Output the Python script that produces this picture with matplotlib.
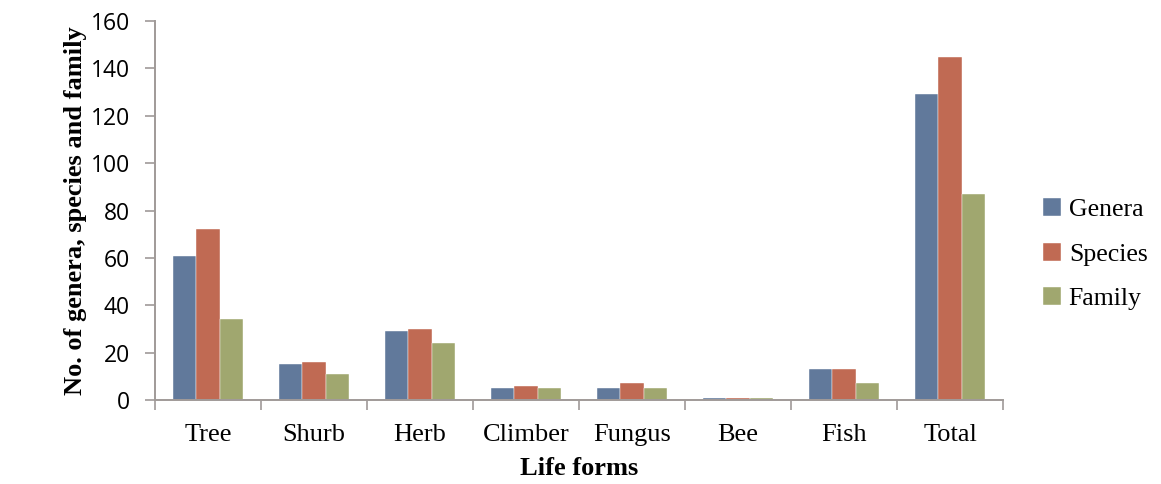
import matplotlib
matplotlib.use("Agg")
import matplotlib.pyplot as plt
import numpy as np

categories = ["Tree", "Shurb", "Herb", "Climber", "Fungus", "Bee", "Fish", "Total"]
genera = [61, 15, 29, 5, 5, 1, 13, 129]
species = [72, 16, 30, 6, 7, 1, 13, 145]
family = [34, 11, 24, 5, 5, 1, 7, 87]
series_names = ["Genera", "Species", "Family"]
colors = ["#61799b", "#c06a53", "#a0a76f"]
yticks = [0, 20, 40, 60, 80, 100, 120, 140, 160]

fig = plt.figure(figsize=(11.61, 4.84), dpi=100)
ax = fig.add_axes([155/1161, 1 - 400/484, (1003-155)/1161, (400-21)/484])

x = np.arange(len(categories))
w = 0.222
for i, (vals, name, c) in enumerate(zip([genera, species, family], series_names, colors)):
    ax.bar(x + (i - 1) * w, vals, width=w, color=c, label=name,
           edgecolor="white", linewidth=0.3)

ax.set_xlim(-0.5, len(categories) - 0.5)
ax.set_ylim(0, 160)
ax.set_yticks(yticks)
ax.set_yticklabels([str(v) for v in yticks], fontfamily="Open Sans", fontsize=16.5)
ax.set_xticks(x)
ax.set_xticklabels(categories, fontfamily="Liberation Serif", fontsize=19)
ax.set_xticks(np.arange(len(categories) + 1) - 0.5, minor=True)
ax.tick_params(axis="x", which="major", length=0, pad=17)
ax.tick_params(axis="x", which="minor", length=7, width=1.2, color="#a09a98", direction="out")
ax.tick_params(axis="y", length=7, width=1.2, color="#a09a98", direction="out", pad=11)

for s in ["top", "right"]:
    ax.spines[s].set_visible(False)
for s in ["left", "bottom"]:
    ax.spines[s].set_color("#a09a98")
    ax.spines[s].set_linewidth(1.4)

ax.set_xlabel("Life forms", fontfamily="Liberation Serif", fontweight="bold", fontsize=19, labelpad=8)
ax.set_ylabel("No. of genera, species and family", fontfamily="Liberation Serif",
              fontweight="bold", fontsize=19, labelpad=3)

leg = ax.legend(loc="center left", bbox_to_anchor=(1.02, 0.385), frameon=False,
                prop={"family": "Liberation Serif", "size": 18.5},
                handlelength=0.7, handleheight=0.7, handletextpad=0.3, labelspacing=0.85)

fig.savefig("out.png", dpi=100)
